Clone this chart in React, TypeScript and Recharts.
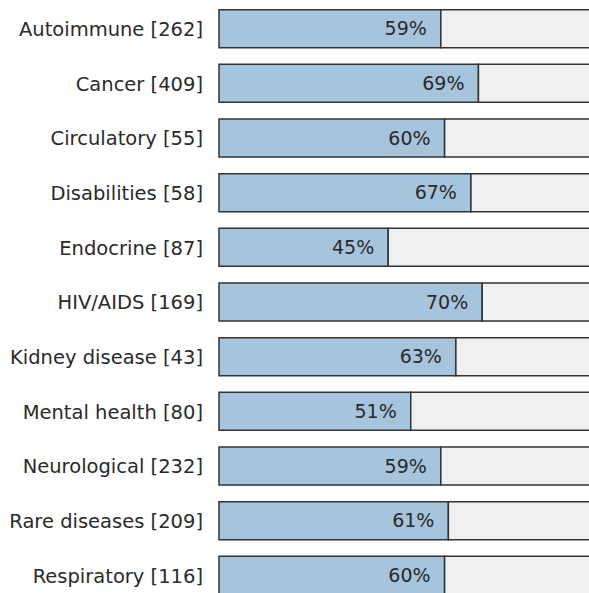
import { BarChart, Bar, XAxis, YAxis, LabelList } from "recharts"

const categories = [
  "Autoimmune",
  "Cancer",
  "Circulatory",
  "Disabilities",
  "Endocrine",
  "HIV/AIDS",
  "Kidney disease",
  "Mental health",
  "Neurological",
  "Rare diseases",
  "Respiratory",
]
const counts = [262, 409, 55, 58, 87, 169, 43, 80, 232, 209, 116]
const percents = [59, 69, 60, 67, 45, 70, 63, 51, 59, 61, 60]

const rows = categories.map((c, i) => ({
  name: `${c} [${counts[i]}]`,
  pct: percents[i],
  rest: 100 - percents[i],
}))

const FONT = "'DejaVu Sans', Verdana, sans-serif"

export default function App() {
  return (
    <div
      style={{
        position: "fixed",
        left: 0,
        top: 0,
        width: 589,
        height: 593,
        overflow: "hidden",
        background: "#fff",
      }}
    >
      <BarChart
        width={600}
        height={603}
        data={rows}
        layout="vertical"
        margin={{ top: 1.7, right: 5, bottom: 0, left: 0 }}
      >
        <XAxis type="number" domain={[0, 100]} hide />
        <YAxis
          type="category"
          dataKey="name"
          width={219}
          axisLine={false}
          tickLine={false}
          tickSize={0}
          tickMargin={16}
          tick={{ fill: "#2a2a2a", fontSize: 19.5, fontFamily: FONT }}
          interval={0}
        />
        <Bar
          dataKey="pct"
          stackId="a"
          fill="#a6c4dc"
          stroke="#333"
          strokeWidth={1.5}
          barSize={38}
          isAnimationActive={false}
        >
          <LabelList
            dataKey="pct"
            position="insideRight"
            offset={14}
            formatter={(v: any) => `${v}%`}
            style={{ fill: "#2a2a2a", fontSize: 19, fontFamily: FONT }}
          />
        </Bar>
        <Bar
          dataKey="rest"
          stackId="a"
          fill="#f0f0f0"
          stroke="#333"
          strokeWidth={1.5}
          barSize={38}
          isAnimationActive={false}
        />
      </BarChart>
    </div>
  )
}
